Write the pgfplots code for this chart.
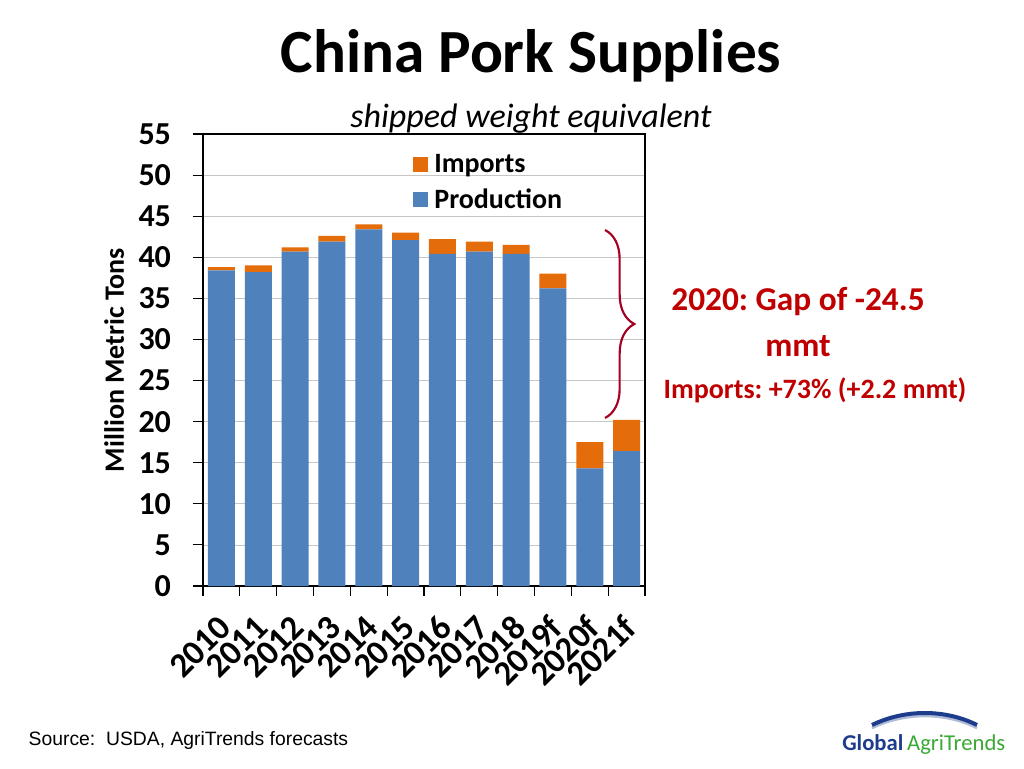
\documentclass[border=0pt]{standalone}
\usepackage{fontspec}
\setmainfont{Carlito}
\newfontfamily\arialfont{Liberation Sans}
\usepackage{pgfplots}
\pgfplotsset{compat=1.18}
\usetikzlibrary{decorations.pathreplacing}
\definecolor{prodblue}{HTML}{4F81BD}
\definecolor{imporange}{HTML}{E46C0A}
\definecolor{gapred}{HTML}{C00000}
\definecolor{bracered}{HTML}{A50021}
\definecolor{logoblue}{HTML}{1E3C8C}
\definecolor{logogreen}{HTML}{3AA935}
\frenchspacing

\pgfplotstableread{
x label prod imp
0 2010 38.4 0.4
1 2011 38.2 0.8
2 2012 40.7 0.5
3 2013 41.9 0.7
4 2014 43.4 0.6
5 2015 42.1 0.9
6 2016 40.4 1.8
7 2017 40.7 1.2
8 2018 40.4 1.1
9 2019f 36.2 1.8
10 2020f 14.3 3.2
11 2021f 16.4 3.8
}\porkdata

\begin{document}
\begin{tikzpicture}[x=0.75pt,y=0.75pt]
\useasboundingbox (0,0) rectangle (1024,768);
\fill[white] (0,0) rectangle (1024,768);

\begin{axis}[
  at={(152.25pt,136.5pt)}, anchor=south west,
  scale only axis, width=331.5pt, height=339pt,
  ybar stacked, bar width=20.25pt,
  xmin=-0.5, xmax=11.5, ymin=0, ymax=55,
  xtick={0,...,11},
  xticklabels={2010,2011,2012,2013,2014,2015,2016,2017,2018,2019f,2020f,2021f},
  minor xtick={-0.5,0.5,...,11.5},
  ytick={0,5,...,55},
  tick align=outside, xtick pos=left, ytick pos=left,
  major tick length=7.5pt, minor tick length=7.5pt,
  major x tick style={draw=none},
  minor x tick style={black, line width=0.8pt},
  y tick style={black, line width=0.8pt},
  axis line style={black, line width=0.8pt},
  ymajorgrids, grid style={gray!45, line width=0.6pt},
  /pgf/number format/assume math mode=true,
  yticklabel style={font=\bfseries\fontsize{24}{24}\selectfont, xshift=-13pt},
  xticklabel shift=17pt,
  xticklabel style={font=\bfseries\fontsize{26}{26}\selectfont, xshift=5pt, rotate=45, anchor=east},
  ylabel={Million Metric Tons},
  ylabel style={font=\bfseries\fontsize{21}{21}\selectfont, yshift=4pt},
  reverse legend,
  legend style={draw=none, fill=none, at={(rel axis cs:0.465,0.968)}, anchor=north west,
    font=\bfseries\fontsize{21}{21}\selectfont, row sep=7pt, column sep=3pt},
  legend cell align=left,
  legend image code/.code={\fill[#1] (0pt,-5.6pt) rectangle (11.2pt,5.6pt);},
]
\addplot[fill=prodblue, draw=none] table[x=x, y=prod] {\porkdata};
\addlegendentry{Production}
\addplot[fill=imporange, draw=none] table[x=x, y=imp] {\porkdata};
\addlegendentry{Imports}
\end{axis}

% titles
\node[font=\bfseries\fontsize{46}{46}\selectfont] at (531,712) {China Pork Supplies};
\node[font=\itshape\fontsize{25.5}{25.5}\selectfont] at (531,649) {shipped weight equivalent};

% gap annotation
\draw[bracered, line width=1.6pt, decorate, decoration={brace, amplitude=22pt}]
  (605,538) -- (605,350);
\node[gapred, font=\bfseries\fontsize{25}{25}\selectfont] at (798,466) {2020: Gap of -24.5};
\node[gapred, font=\bfseries\fontsize{25}{25}\selectfont] at (798,422) {mmt};
\node[gapred, font=\bfseries\fontsize{21}{21}\selectfont] at (815,378) {Imports: +73\% (+2.2 mmt)};

% source and logo
\node[anchor=west, font=\arialfont\fontsize{14.5}{14.5}\selectfont] at (24,28) {Source:\ \ USDA, AgriTrends forecasts};
\draw[logoblue!35, line width=2pt] (872,40) .. controls (905,56) and (945,56) .. (977,40);
\draw[logoblue, line width=3pt] (872,43) .. controls (905,59) and (945,59) .. (977,43);
\node[anchor=west, inner sep=0pt, font=\fontsize{17}{17}\selectfont] at (842,24)
  {\textbf{\color{logoblue}Global}\,{\color{logogreen}AgriTrends}};
\end{tikzpicture}
\end{document}
